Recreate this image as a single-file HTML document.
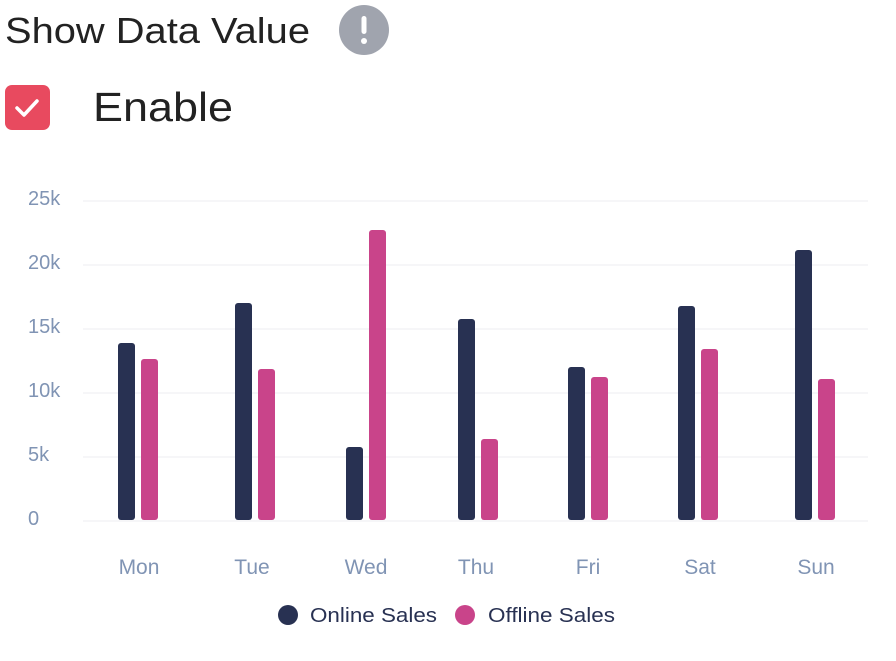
<!DOCTYPE html>
<html><head><meta charset="utf-8"><style>
body{margin:0;width:896px;height:656px;background:#fff;overflow:hidden;font-family:"Liberation Sans",sans-serif;}
</style></head><body>
<svg width="896" height="656" xmlns="http://www.w3.org/2000/svg" font-family="Liberation Sans, sans-serif">
<text x="5" y="43" font-size="36" fill="#222" textLength="305" lengthAdjust="spacingAndGlyphs">Show Data Value</text>
<circle cx="364" cy="30" r="25" fill="#a0a4ae"/>
<rect x="361.5" y="16" width="5" height="18" rx="2.5" fill="#fff"/>
<circle cx="364" cy="41" r="3" fill="#fff"/>
<rect x="5" y="85" width="45" height="45" rx="7" fill="#e84a5f"/>
<path d="M17 108 L24 115 L37 101" stroke="#fff" stroke-width="3.5" fill="none" stroke-linecap="round" stroke-linejoin="round"/>
<text x="93" y="121" font-size="41" fill="#222" textLength="140" lengthAdjust="spacingAndGlyphs">Enable</text>
<g stroke="#eceef2" stroke-width="1">
<line x1="83" y1="201" x2="868" y2="201"/><line x1="83" y1="265" x2="868" y2="265"/>
<line x1="83" y1="329" x2="868" y2="329"/><line x1="83" y1="393" x2="868" y2="393"/>
<line x1="83" y1="457" x2="868" y2="457"/><line x1="83" y1="521" x2="868" y2="521"/>
</g>
<g font-size="20" fill="#8094b4">
<text x="28" y="205">25k</text><text x="28" y="269">20k</text><text x="28" y="333">15k</text>
<text x="28" y="397">10k</text><text x="28" y="461">5k</text><text x="28" y="525">0</text>
</g>
<g fill="#283152">
<rect x="118" y="343" width="17" height="177" rx="3"/>
<rect x="235" y="303" width="17" height="217" rx="3"/>
<rect x="346" y="447" width="17" height="73" rx="3"/>
<rect x="458" y="319" width="17" height="201" rx="3"/>
<rect x="568" y="367" width="17" height="153" rx="3"/>
<rect x="678" y="306" width="17" height="214" rx="3"/>
<rect x="795" y="250" width="17" height="270" rx="3"/>
</g>
<g fill="#c9448a">
<rect x="141" y="359" width="17" height="161" rx="3"/>
<rect x="258" y="369" width="17" height="151" rx="3"/>
<rect x="369" y="230" width="17" height="290" rx="3"/>
<rect x="481" y="439" width="17" height="81" rx="3"/>
<rect x="591" y="377" width="17" height="143" rx="3"/>
<rect x="701" y="349" width="17" height="171" rx="3"/>
<rect x="818" y="379" width="17" height="141" rx="3"/>
</g>
<g font-size="21" fill="#8094b4" text-anchor="middle">
<text x="139" y="574">Mon</text><text x="252" y="574">Tue</text><text x="366" y="574">Wed</text>
<text x="476" y="574">Thu</text><text x="588" y="574">Fri</text><text x="700" y="574">Sat</text><text x="816" y="574">Sun</text>
</g>
<circle cx="288" cy="615" r="10" fill="#283152"/>
<text x="310" y="622" font-size="20" fill="#283152" textLength="127" lengthAdjust="spacingAndGlyphs">Online Sales</text>
<circle cx="465" cy="615" r="10" fill="#c9448a"/>
<text x="488" y="622" font-size="20" fill="#283152" textLength="127" lengthAdjust="spacingAndGlyphs">Offline Sales</text>
</svg>
</body></html>
